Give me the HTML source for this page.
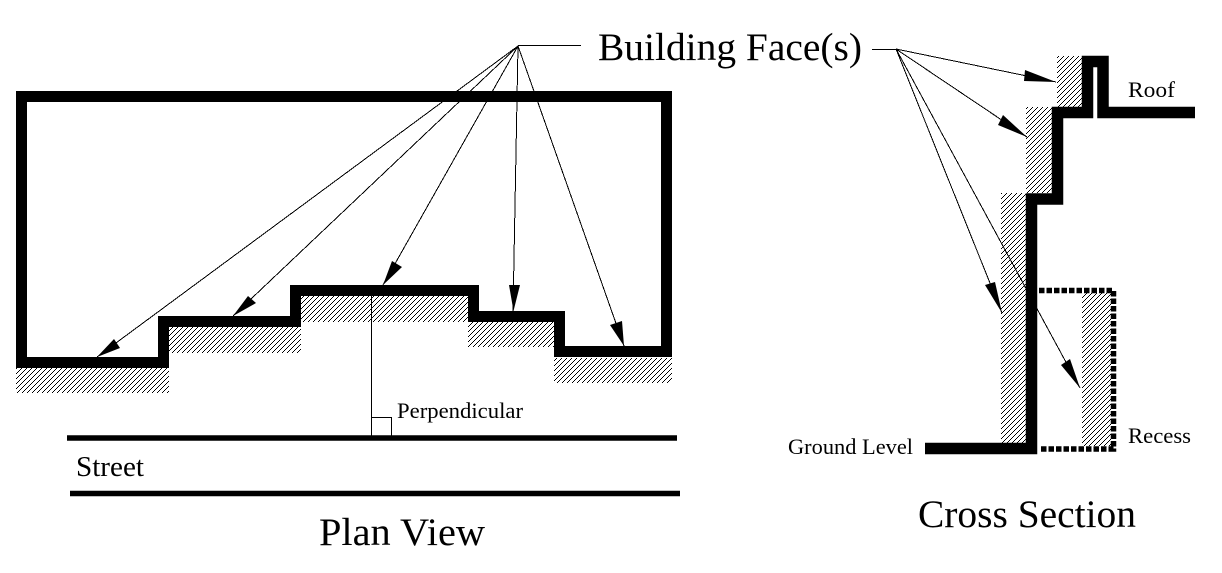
<!DOCTYPE html>
<html><head><meta charset="utf-8"><style>
html,body{margin:0;padding:0;background:#fff;width:1222px;height:573px;overflow:hidden}
svg{display:block}
text{font-family:"Liberation Serif",serif;fill:#000}
</style></head><body>
<svg width="1222" height="573" viewBox="0 0 1222 573" xmlns="http://www.w3.org/2000/svg">
<defs><pattern id="h" x="0" y="0" width="5" height="5" patternUnits="userSpaceOnUse"><g fill="#000" shape-rendering="crispEdges"><rect x="4" y="0" width="1" height="1"/><rect x="3" y="1" width="1" height="1"/><rect x="2" y="2" width="1" height="1"/><rect x="1" y="3" width="1" height="1"/><rect x="0" y="4" width="1" height="1"/></g></pattern></defs>
<rect width="1222" height="573" fill="#fff"/>
<g fill="url(#h)">
<rect x="16" y="368" width="153" height="25"/>
<rect x="169" y="327" width="132" height="26"/>
<rect x="301" y="296" width="167" height="26"/>
<rect x="468" y="322" width="86" height="25"/>
<rect x="554" y="358" width="118" height="25"/>
<rect x="1057" y="56" width="25" height="51"/>
<rect x="1026" y="107" width="26" height="86"/>
<rect x="1001" y="193" width="25" height="250"/>
<rect x="1082" y="293" width="29" height="153"/>
</g>
<path d="M21.5,96.5 H666.5 V351.5 H559.5 V316.5 H473.5 V290.5 H295.5 V321.5 H163.5 V362.5 H21.5 Z" fill="none" stroke="#000" stroke-width="11" stroke-linejoin="miter"/>
<path d="M67,438 H677 M70,493.5 H680" stroke="#000" stroke-width="5.5" fill="none"/>
<path d="M371.5,296 V437 M371.5,417.5 H391.5 V437" stroke="#000" stroke-width="1" fill="none"/>
<g stroke="#000" stroke-width="1" fill="none" shape-rendering="crispEdges">
<path d="M518,45.5 H581"/>
<path d="M518,46 L97,357 M518,46 L233,316 M518,46 L383,285 M518,46 L513,311 M518,46 L624,346"/>
<path d="M872,49.5 H896"/>
<path d="M896,49 L1056,82 M896,49 L1027,137 M896,49 L1002,313 M896,49 L1080,388"/>
</g>
<g fill="#000">
<polygon points="97,357 114,339 120,348"/>
<polygon points="233,316 248,296 256,303"/>
<polygon points="383,285 392,261 402,267"/>
<polygon points="513.5,311 509,285 520,285"/>
<polygon points="624,346 610,325 622,321"/>
<polygon points="1056,82 1025,70 1024,81"/>
<polygon points="1027,137 1003,115 998,125"/>
<polygon points="1002,313 985,285 995,282"/>
<polygon points="1080,388 1061,365 1070,359"/>
</g>
<path d="M925,448.5 H1031.5 V199 H1057.5 V112.5 H1087.5 V61.5 H1103 V112.5 H1195" fill="none" stroke="#000" stroke-width="11.5" stroke-linejoin="miter"/>
<path d="M1039,290.5 H1113.5 V449 H1039" fill="none" stroke="#000" stroke-width="5.5" stroke-dasharray="5.5 2"/>
<text x="598" y="60" font-size="39" textLength="264" lengthAdjust="spacingAndGlyphs">Building Face(s)</text>
<text x="319" y="545" font-size="39" textLength="166" lengthAdjust="spacingAndGlyphs">Plan View</text>
<text x="918" y="527" font-size="39" textLength="218" lengthAdjust="spacingAndGlyphs">Cross Section</text>
<text x="76" y="476" font-size="28" textLength="68" lengthAdjust="spacingAndGlyphs">Street</text>
<text x="397" y="418" font-size="22.5" textLength="126" lengthAdjust="spacingAndGlyphs">Perpendicular</text>
<text x="1128" y="97" font-size="22.5" textLength="47" lengthAdjust="spacingAndGlyphs">Roof</text>
<text x="788" y="454" font-size="22.5" textLength="125" lengthAdjust="spacingAndGlyphs">Ground Level</text>
<text x="1128" y="443" font-size="22.5" textLength="63" lengthAdjust="spacingAndGlyphs">Recess</text>
</svg>
</body></html>
